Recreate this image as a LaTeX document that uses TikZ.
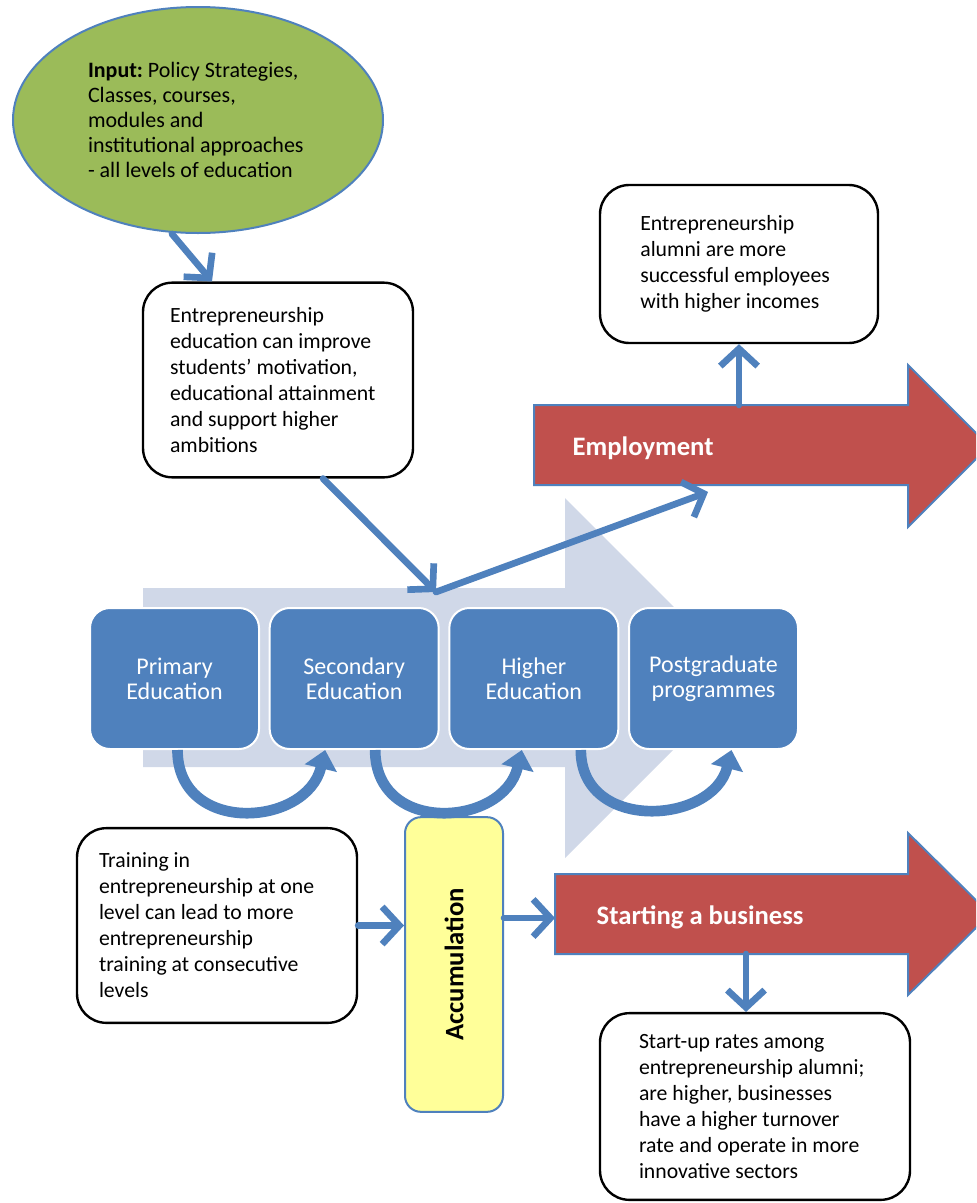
\documentclass[tikz,border=0pt]{standalone}
\usepackage{fontspec}
\setmainfont{Carlito}
\usepackage{tikz}
\usetikzlibrary{arrows.meta,positioning,shapes.geometric}

\definecolor{edublue}{RGB}{79,129,189}
\definecolor{edudark}{RGB}{56,93,138}
\definecolor{outred}{RGB}{192,80,77}
\definecolor{ingreen}{RGB}{155,187,89}
\definecolor{accyellow}{RGB}{255,255,153}
\definecolor{pathgrey}{RGB}{208,216,232}

\frenchspacing

\begin{document}
\begin{tikzpicture}[x=0.75pt,y=-0.75pt,node distance=6.5pt,
  note/.style={draw=black,line width=1.8pt,rounded corners=22pt,fill=white,align=flush left,font=\fontsize{16.3}{19.5}\selectfont},
  stage/.style={draw=white,line width=1.5pt,fill=edublue,rounded corners=15pt,minimum width=126.75pt,minimum height=105.75pt,align=center,text=white,font=\fontsize{18}{19}\selectfont},
  flow/.style={draw=edublue,line width=5pt,line cap=round,-{Straight Barb[length=13pt,width=28pt,line width=5pt]}},
  uturn/.style={draw=edublue,line width=8pt,-{Triangle[length=14pt,width=24pt]}},
  bigarrow/.style={fill=outred,draw=edublue,line width=1.5pt},
  bigtext/.style={text=white,font=\fontsize{20}{24}\selectfont\bfseries,anchor=west}]

\useasboundingbox (0,0) rectangle (976,1203);
\fill[white] (0,0) rectangle (976,1203);
\clip (0,0) rectangle (976,1203);

% education path in the back
\fill[pathgrey] (143,588) -- (565,588) -- (565,498) -- (745,678) -- (565,858) -- (565,767) -- (143,767) -- cycle;

% outcomes
\draw[bigarrow] (534,405) -- (908,405) -- (908,365) -- (989,446) -- (908,527) -- (908,485) -- (534,485) -- cycle;
\draw[bigarrow] (555,874) -- (908,874) -- (908,833) -- (990,914) -- (908,995) -- (908,954) -- (555,954) -- cycle;

\node(emp)[bigtext] at (568,448){Employment};

\node(biz)[bigtext] at (592,917){Starting a business};

\coordinate(empout) at (739,405);
\coordinate(empin) at (708,492);
\coordinate(join) at (436,592);
\coordinate(bizin) at (555,918);
\coordinate(bizout) at (746,954);

\node(input)[ellipse,draw=edublue,line width=1.5pt,fill=ingreen,minimum width=277.5pt,minimum height=169.5pt,align=flush left,text width=165pt,font=\fontsize{16.5}{18.75}\selectfont] at (198,120){\textbf{Input:} Policy Strategies,\\Classes, courses,\\modules and\\institutional approaches\\- all levels of education};

\node(edu)[note,minimum width=202.5pt,minimum height=146pt,text width=162pt] at (278,380){Entrepreneurship\\education can improve\\students' motivation,\\educational attainment\\and support higher\\ambitions};

\node(alumni)[note,minimum width=208.5pt,minimum height=118.5pt,text width=148pt] at (739,264){Entrepreneurship\\alumni are more\\successful employees\\with higher incomes};

\node(prim)[stage] at (174.5,678.5){Primary\\Education};

\node(sec)[stage,right = of prim]{Secondary\\Education};

\node(high)[stage,right = of sec]{Higher\\Education};

\node(post)[stage,right = of high]{Postgraduate\\programmes};

\node(train)[note,minimum width=210pt,minimum height=146pt,text width=177pt] at (217,925.5){Training in\\entrepreneurship at one\\level can lead to more\\entrepreneurship\\training at consecutive\\levels};

\node(accum)[draw=edublue,line width=1.5pt,fill=accyellow,rounded corners=12pt,minimum width=73.5pt,minimum height=221pt,font=\fontsize{20}{24}\selectfont\bfseries] at (454,964.5){\rotatebox{90}{Accumulation}};

\node(startup)[note,minimum width=232.5pt,minimum height=140pt,text width=174pt] at (755,1106.5){Start-up rates among\\entrepreneurship alumni;\\are higher, businesses\\have a higher turnover\\rate and operate in more\\innovative sectors};

\draw[flow] ([xshift=-19.5pt]input.south) -- ([xshift=-49.5pt]edu.north);

\draw[flow] ([xshift=33.75pt]edu.south) -- (join);

\draw[flow] (join) -- (empin);

\draw[flow] (empout) -- (alumni.south);

\draw[flow] (train.east) -- (train.east -| accum.west);

\draw[flow] (accum.east |- bizin) -- (bizin);

\draw[flow] (bizout) -- (bizout |- startup.north);

\draw[uturn] ([xshift=2.25pt]prim.south) .. controls +(0,-64pt) and +(-14pt,-58pt) .. ([xshift=-21.75pt]sec.south);

\draw[uturn] ([xshift=15.75pt]sec.south) .. controls +(0,-64pt) and +(-14pt,-58pt) .. ([xshift=-9pt]high.south);

\draw[uturn] ([xshift=35.25pt]high.south) .. controls +(0,-62pt) and +(-14pt,-56pt) .. ([xshift=13.5pt]post.south);

\end{tikzpicture}
\end{document}
